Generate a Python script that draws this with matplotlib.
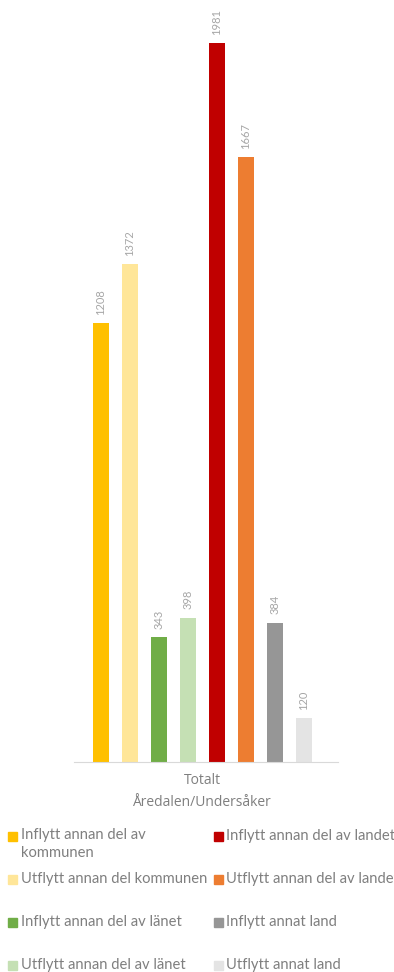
import matplotlib.pyplot as plt
from matplotlib.patches import Rectangle

# data
series = ["Inflytt annan del av\nkommunen", "Utflytt annan del kommunen",
          "Inflytt annan del av länet", "Utflytt annan del av länet",
          "Inflytt annan del av landet", "Utflytt annan del av landet",
          "Inflytt annat land", "Utflytt annat land"]
values = [1208, 1372, 343, 398, 1981, 1667, 384, 120]
colors = ["#FFC000", "#FFE699", "#70AD47", "#C5E0B4",
          "#C00000", "#ED7D31", "#969696", "#E4E4E4"]
category = "Totalt"
axis_title = "Åredalen/Undersåker"

W, H = 394, 972
plt.rcParams["font.family"] = ["Lato", "DejaVu Sans"]
fig = plt.figure(figsize=(W / 100, H / 100), dpi=100)

def fx(px):
    return px / W

def fy(py):
    return 1 - py / H

ax = fig.add_axes([fx(74), fy(762), fx(338) - fx(74), fy(36) - fy(762)])
xs = range(len(values))
ax.bar(xs, values, width=16 / 29, color=colors)
ax.set_xlim(-0.93, 8.17)
ax.set_ylim(0, 2000)
for x, v in zip(xs, values):
    ax.annotate(str(v), (x, v), xytext=(0, 6), textcoords="offset points",
                rotation=90, ha="center", va="bottom", fontsize=8,
                color="#a6a6a6", annotation_clip=False)
for s in ["top", "left", "right"]:
    ax.spines[s].set_visible(False)
ax.spines["bottom"].set_color("#d9d9d9")
ax.set_yticks([])
ax.set_xticks([])

# axis labels under the bars (source uses letter spacing -> wider font)
fig.text(fx(202), fy(780), category, ha="center", va="center", fontsize=10,
         color="#7f7f7f", family=["Open Sans", "DejaVu Sans"])
fig.text(fx(202), fy(802), axis_title, ha="center", va="center", fontsize=10,
         color="#7f7f7f", family=["Open Sans", "DejaVu Sans"])

# legend, laid out by hand in two columns
rows = [836, 879, 922, 965]
cols = [(8, 21), (214, 226)]
for i, (lab, c) in enumerate(zip(series, colors)):
    mx, tx = cols[i // 4]
    ry = rows[i % 4]
    fig.patches.append(Rectangle((fx(mx), fy(ry + 4.5)), fx(9), 9 / H,
                                 transform=fig.transFigure, color=c))
    if "\n" in lab:
        fig.text(fx(tx), fy(ry - 8), lab, ha="left", va="top",
                 fontsize=10.6, color="#7f7f7f", linespacing=1.4)
    else:
        fig.text(fx(tx), fy(ry), lab, ha="left", va="center",
                 fontsize=10.6, color="#7f7f7f")

fig.savefig("out.png", dpi=100)
